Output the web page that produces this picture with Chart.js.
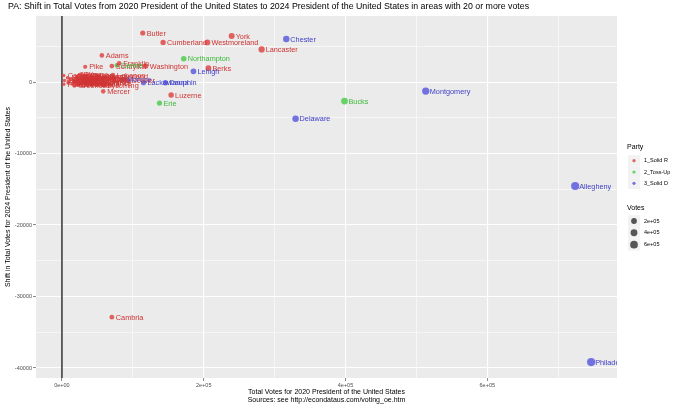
<!DOCTYPE html>
<html>
<head>
<meta charset="utf-8">
<script src="https://cdn.jsdelivr.net/npm/chart.js@4"></script>
<style>
  body { margin: 0; background: #fff; }
  canvas { display: block; }
</style>
</head>
<body>
<canvas id="shiftChart" width="680" height="408"></canvas>
<script>
//// data
const counties = [
  "Butler", "Cumberland", "Westmoreland", "York", "Chester", "Lancaster", "Adams",
  "Northampton", "Franklin", "Schuylkill", "Centre", "Washington", "Berks", "Lehigh",
  "Pike", "Luzerne", "Erie", "Mercer", "Delaware", "Bucks", "Montgomery", "Allegheny",
  "Philadelphia", "Cambria", "Lackawanna", "Dauphin", "Monroe",
  "Cameron", "Forest", "Sullivan", "Fulton", "Potter", "Montour", "Juniata", "Wyoming",
  "Elk", "Clinton", "Greene", "Snyder", "Union", "McKean", "Clarion", "Tioga", "Warren",
  "Huntingdon", "Mifflin", "Susquehanna", "Jefferson", "Perry", "Venango", "Bedford",
  "Wayne", "Bradford", "Columbia", "Carbon", "Armstrong", "Clearfield", "Indiana",
  "Somerset", "Northumberland", "Crawford", "Lawrence", "Fayette", "Lycoming", "Blair",
  "Lebanon", "Beaver"
];
const votes2020 = [
  114000, 142700, 205200, 239400, 316500, 281700, 56300,
  171800, 80700, 70400, 77500, 118300, 206600, 185500,
  32800, 154000, 137600, 58200, 329600, 398600, 513200, 724000,
  746500, 70400, 115000, 146000, 86000,
  2500, 2700, 3600, 8000, 8800, 9500, 12000, 14500,
  16500, 17500, 17500, 19000, 20000, 20000, 20000, 21000, 21000,
  22000, 22000, 23000, 23000, 25000, 27000, 27500,
  28000, 31000, 32000, 34000, 38000, 41000, 42000,
  42000, 42000, 43000, 48000, 59000, 59000, 64000,
  71800, 93000
];
const voteShift = [
  6860, 5550, 5550, 6440, 6020, 4570, 3730,
  3260, 2620, 2240, 2340, 2240, 1960, 1500,
  2140, -1820, -2940, -1300, -5130, -2660, -1260, -14550,
  -39170, -32900, -100, -100, 380,
  900, -300, 200, 600, -100, 100, 350, -250,
  300, 50, -520, 500, -350, 150, 400, 700, -150,
  600, 250, 800, -400, 1000, -200, 700,
  1100, 450, -100, 900, 300, 200, -300,
  550, 750, 0, -200, 250, -450, 400,
  980, 150
];
const party = [
  "R", "R", "R", "R", "D", "R", "R",
  "T", "R", "R", "T", "R", "R", "D",
  "R", "R", "T", "R", "D", "T", "D", "D",
  "D", "R", "D", "D", "D",
  "R", "R", "R", "R", "R", "R", "R", "R",
  "R", "R", "R", "R", "R", "R", "R", "R", "R",
  "R", "R", "R", "R", "R", "R", "R",
  "R", "R", "R", "R", "R", "R", "R",
  "R", "R", "R", "R", "R", "R", "R",
  "R", "R"
];
const partyCodes = ["R", "T", "D"];
const partyNames = ["1_Solid R", "2_Toss-Up", "3_Solid D"];
const sizeBreaks = [200000, 400000, 600000];
const xMajorTicks = [0, 200000, 400000, 600000];
const xMinorTicks = [100000, 300000, 500000, 700000];
const yMajorTicks = [-40000, -30000, -20000, -10000, 0];
const yMinorTicks = [-35000, -25000, -15000, -5000, 5000];

//// styles
const pointColors = { R: "rgba(222,72,72,0.85)", T: "rgba(80,205,80,0.85)", D: "rgba(92,92,222,0.85)" };
const textColors = { R: "#d03434", T: "#3dba3d", D: "#4040c8" };
const fontFamily = "'Liberation Sans', Arial, sans-serif";

function dotRadius(votes) {
  return 1.6 + 2.5 * Math.sqrt(votes / 750000);
}

function formatSci(value) {
  if (value === 0) return "0e+00";
  return (value / 100000) + "e+05";
}

//// datasets
const datasets = partyCodes.map((code) => {
  const points = [];
  counties.forEach((name, i) => {
    if (party[i] === code) {
      points.push({ x: votes2020[i], y: voteShift[i], name: name, votes: votes2020[i] });
    }
  });
  return {
    label: code,
    data: points,
    backgroundColor: pointColors[code],
    borderWidth: 0,
    pointRadius: (ctx) => dotRadius(ctx.raw.votes),
    pointHoverRadius: (ctx) => dotRadius(ctx.raw.votes)
  };
});

//// plugins
const panelPlugin = {
  id: "panel",
  beforeDraw(chart) {
    const { ctx, chartArea } = chart;
    ctx.save();
    ctx.fillStyle = "#ffffff";
    ctx.fillRect(0, 0, chart.width, chart.height);
    ctx.fillStyle = "#ebebeb";
    ctx.fillRect(chartArea.left, chartArea.top, chartArea.right - chartArea.left, chartArea.bottom - chartArea.top);
    ctx.restore();
  },
  beforeDatasetsDraw(chart) {
    const { ctx, chartArea, scales } = chart;
    const x0 = scales.x.getPixelForValue(0);
    ctx.save();
    ctx.strokeStyle = "#000000";
    ctx.lineWidth = 1.2;
    ctx.beginPath();
    ctx.moveTo(x0, chartArea.top);
    ctx.lineTo(x0, chartArea.bottom);
    ctx.stroke();
    ctx.restore();
  },
  afterDatasetsDraw(chart) {
    const { ctx, chartArea } = chart;
    ctx.save();
    ctx.beginPath();
    ctx.rect(chartArea.left, chartArea.top, chartArea.right - chartArea.left, chartArea.bottom - chartArea.top);
    ctx.clip();
    ctx.font = "7.3px " + fontFamily;
    ctx.textBaseline = "middle";
    ctx.textAlign = "left";
    chart.data.datasets.forEach((ds, di) => {
      const meta = chart.getDatasetMeta(di);
      ctx.fillStyle = textColors[ds.label];
      meta.data.forEach((el, j) => {
        ctx.fillText(ds.data[j].name, el.x + 4, el.y + 0.5);
      });
    });
    ctx.restore();
  },
  afterDraw(chart) {
    const { ctx, chartArea } = chart;
    const midX = (chartArea.left + chartArea.right) / 2;
    const midY = (chartArea.top + chartArea.bottom) / 2;
    ctx.save();
    ctx.fillStyle = "#000000";
    ctx.textBaseline = "middle";

    // title
    ctx.font = "8.8px " + fontFamily;
    ctx.textAlign = "left";
    ctx.fillText("PA: Shift in Total Votes from 2020 President of the United States to 2024 President of the United States in areas with 20 or more votes", 8, 7);

    // axis titles
    ctx.font = "7px " + fontFamily;
    ctx.textAlign = "center";
    ctx.fillText("Total Votes for 2020 President of the United States", midX, 392);
    ctx.fillText("Sources: see http://econdataus.com/voting_oe.htm", midX, 400.5);
    ctx.save();
    ctx.translate(8, midY);
    ctx.rotate(-Math.PI / 2);
    ctx.fillText("Shift in Total Votes for 2024 President of the United States", 0, 0);
    ctx.restore();

    // legend: party
    ctx.textAlign = "left";
    ctx.font = "7px " + fontFamily;
    ctx.fillText("Party", 627, 147);
    const partyY = [160.7, 172, 183.3];
    partyCodes.forEach((code, i) => {
      ctx.fillStyle = "#f2f2f2";
      ctx.fillRect(628, partyY[i] - 5.6, 12, 11.3);
      ctx.fillStyle = pointColors[code];
      ctx.beginPath();
      ctx.arc(634, partyY[i], 1.6, 0, Math.PI * 2);
      ctx.fill();
      ctx.fillStyle = "#000000";
      ctx.font = "5.5px " + fontFamily;
      ctx.fillText(partyNames[i], 644, partyY[i]);
    });

    // legend: votes
    ctx.font = "7px " + fontFamily;
    ctx.fillText("Votes", 627, 208);
    const sizeY = [221, 232.7, 244.7];
    sizeBreaks.forEach((b, i) => {
      ctx.fillStyle = "#f2f2f2";
      ctx.fillRect(628, sizeY[i] - 5.8, 12, 11.6);
      ctx.fillStyle = "#555555";
      ctx.beginPath();
      ctx.arc(634, sizeY[i], dotRadius(b), 0, Math.PI * 2);
      ctx.fill();
      ctx.fillStyle = "#000000";
      ctx.font = "5.5px " + fontFamily;
      ctx.fillText(formatSci(b), 644, sizeY[i]);
    });
    ctx.restore();
  }
};

//// chart
const ctx = document.getElementById("shiftChart").getContext("2d");
new Chart(ctx, {
  type: "scatter",
  data: { datasets: datasets },
  plugins: [panelPlugin],
  options: {
    responsive: false,
    animation: false,
    devicePixelRatio: 1,
    layout: { padding: { left: 0, right: 63, top: 16, bottom: 0 } },
    plugins: {
      legend: { display: false },
      tooltip: { enabled: false }
    },
    scales: {
      x: {
        type: "linear",
        min: -36600,
        max: 783000,
        afterFit: (scale) => { scale.height = 30; },
        afterBuildTicks: (scale) => {
          scale.ticks = xMajorTicks.concat(xMinorTicks).sort((a, b) => a - b).map((v) => ({ value: v }));
        },
        border: { display: false },
        grid: {
          color: "#ffffff",
          lineWidth: (c) => (xMajorTicks.includes(c.tick.value) ? 1.1 : 0.55),
          tickLength: 3,
          tickColor: (c) => (xMajorTicks.includes(c.tick.value) ? "#333333" : "rgba(0,0,0,0)"),
          tickWidth: 0.6
        },
        ticks: {
          autoSkip: false,
          maxRotation: 0,
          padding: 1,
          color: "#4d4d4d",
          font: { size: 5.5, family: fontFamily },
          callback: (value) => (xMajorTicks.includes(value) ? formatSci(value) : "")
        }
      },
      y: {
        type: "linear",
        min: -41400,
        max: 9240,
        afterFit: (scale) => { scale.width = 36; },
        afterBuildTicks: (scale) => {
          scale.ticks = yMajorTicks.concat(yMinorTicks).sort((a, b) => a - b).map((v) => ({ value: v }));
        },
        border: { display: false },
        grid: {
          color: "#ffffff",
          lineWidth: (c) => (yMajorTicks.includes(c.tick.value) ? 1.1 : 0.55),
          tickLength: 3,
          tickColor: (c) => (yMajorTicks.includes(c.tick.value) ? "#333333" : "rgba(0,0,0,0)"),
          tickWidth: 0.6
        },
        ticks: {
          autoSkip: false,
          padding: 1,
          color: "#4d4d4d",
          font: { size: 5.5, family: fontFamily },
          callback: (value) => (yMajorTicks.includes(value) ? String(value) : "")
        }
      }
    }
  }
});
</script>
</body>
</html>
